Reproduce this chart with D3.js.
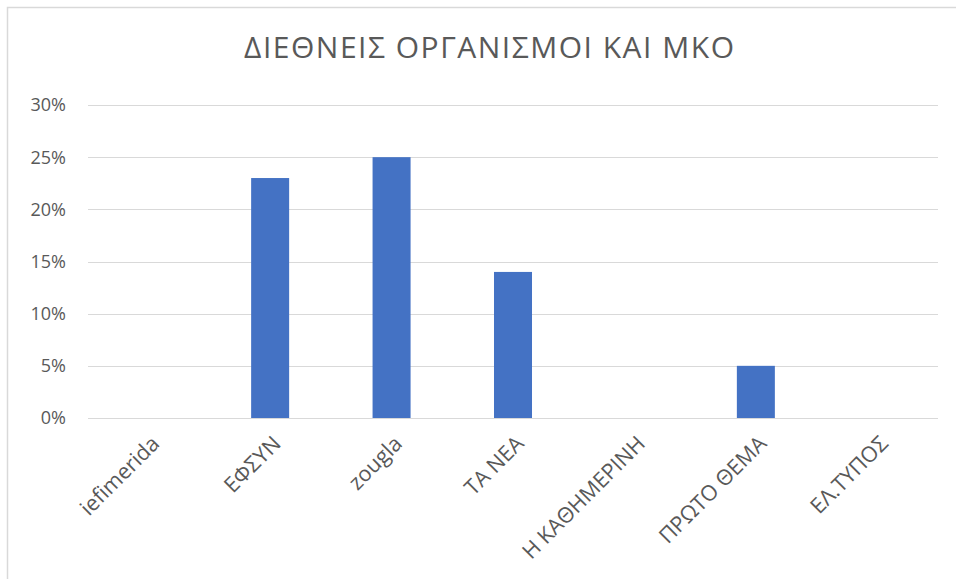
<!DOCTYPE html>
<html>
<head>
<meta charset="utf-8">
<script src="https://cdn.jsdelivr.net/npm/d3@7"></script>
<style>
  body { margin: 0; background: #fff; }
  svg { display: block; font-family: "Open Sans", "Noto Sans", sans-serif; }
</style>
</head>
<body>
<div id="chart"></div>
<script>
(function(){
    // data
    const categories = ["iefimerida", "ΕΦΣΥΝ", "zougla", "ΤΑ ΝΕΑ", "Η ΚΑΘΗΜΕΡΙΝΗ", "ΠΡΩΤΟ ΘΕΜΑ", "ΕΛ.ΤΥΠΟΣ"];
    const values = [0, 0.23, 0.25, 0.14, 0, 0.05, 0];
    const yTicks = [0, 0.05, 0.10, 0.15, 0.20, 0.25, 0.30];
    const title = "ΔΙΕΘΝΕΙΣ ΟΡΓΑΝΙΣΜΟΙ ΚΑΙ ΜΚΟ";

    const width = 956, height = 579;
    const plot = { left: 88, right: 938, top: 105, bottom: 418 };

    const svg = d3.select("#chart").append("svg")
        .attr("width", width)
        .attr("height", height);

    // chart frame (only left and top edges visible in the crop)
    svg.append("path")
        .attr("d", `M7.5,${height} V7.5 H${width}`)
        .attr("fill", "none")
        .attr("stroke", "#d9d9d9")
        .attr("stroke-width", 1.5);

    const x = d3.scaleBand()
        .domain(categories)
        .range([plot.left, plot.right])
        .padding(0);

    const y = d3.scaleLinear()
        .domain([0, 0.30])
        .range([plot.bottom, plot.top]);

    const barW = x.bandwidth() * 0.313;

    // gridlines
    svg.append("g")
        .selectAll("line")
        .data(yTicks)
        .join("line")
        .attr("x1", plot.left)
        .attr("x2", plot.right)
        .attr("y1", d => Math.round(y(d)) + 0.5)
        .attr("y2", d => Math.round(y(d)) + 0.5)
        .attr("stroke", "#d9d9d9")
        .attr("stroke-width", 1.2);

    // y tick labels
    svg.append("g")
        .selectAll("text")
        .data(yTicks)
        .join("text")
        .attr("x", 66)
        .attr("y", d => y(d))
        .attr("dy", "0.36em")
        .attr("text-anchor", "end")
        .attr("fill", "#595959")
        .style("font-size", "18px")
        .text(d3.format(".0%"));

    // bars
    svg.append("g")
        .selectAll("rect")
        .data(values)
        .join("rect")
        .attr("x", (d, i) => x(categories[i]) + x.bandwidth() / 2 - barW / 2)
        .attr("y", d => y(d))
        .attr("width", barW)
        .attr("height", d => y(0) - y(d))
        .attr("fill", "#4472c4");

    // category labels, rotated
    svg.append("g")
        .selectAll("text")
        .data(categories)
        .join("text")
        .attr("transform", d => `translate(${x(d) + x.bandwidth() / 2 + 12},${plot.bottom + 27}) rotate(-45)`)
        .attr("text-anchor", "end")
        .attr("fill", "#595959")
        .style("font-size", "21.5px")
        .text(d => d);

    // title
    svg.append("text")
        .attr("x", 489)
        .attr("y", 58)
        .attr("text-anchor", "middle")
        .attr("fill", "#595959")
        .style("font-size", "30px")
        .attr("textLength", 490)
        .attr("lengthAdjust", "spacing")
        .text(title);
})();
</script>
</body>
</html>
